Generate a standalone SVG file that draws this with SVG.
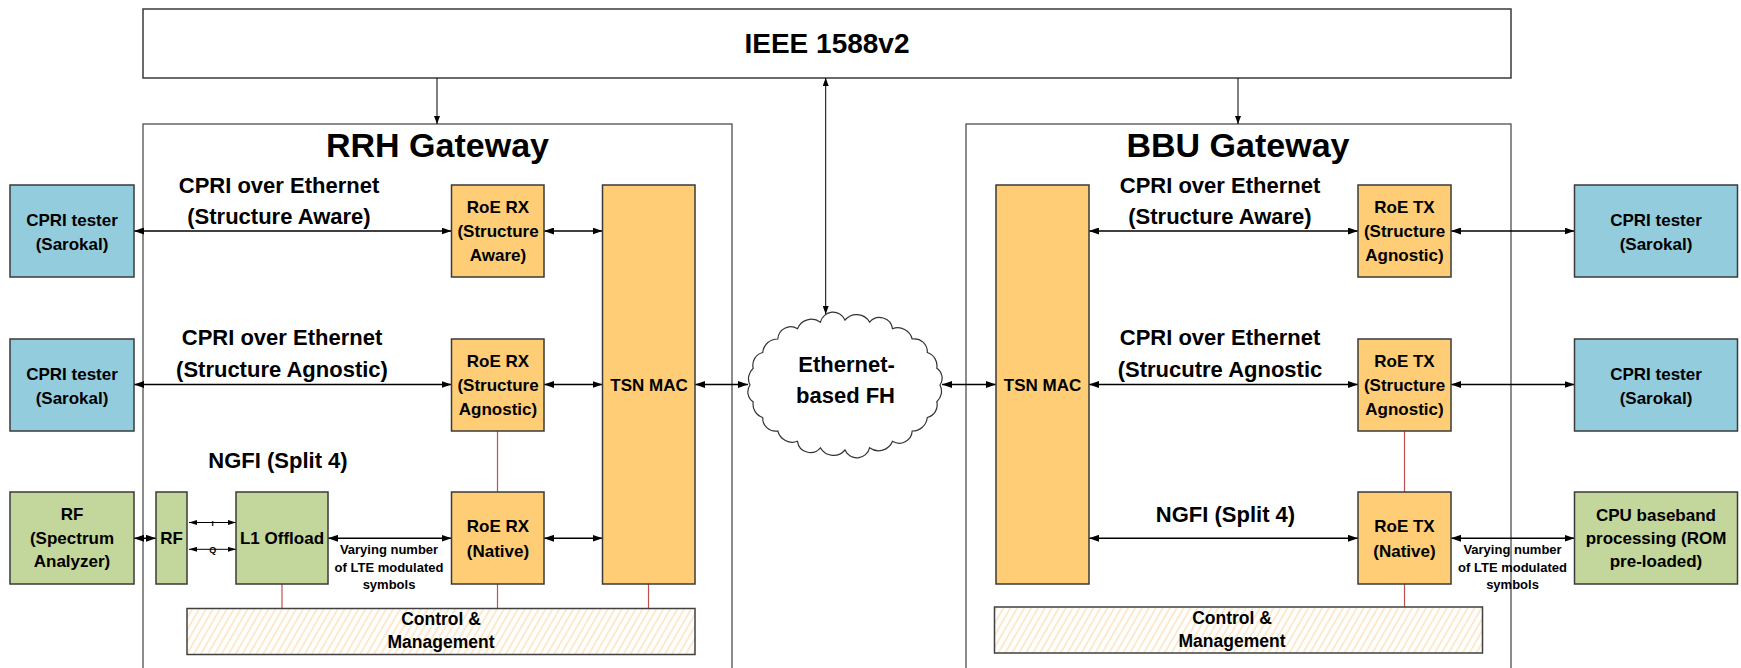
<svg xmlns="http://www.w3.org/2000/svg" width="1741" height="668" viewBox="0 0 1741 668">
<style>
.t{font-family:"Liberation Sans",Arial,sans-serif;font-weight:bold;fill:#000;text-anchor:middle}
.n{stroke:#3a3a3a;stroke-width:1.5}
.blue{fill:#93CDDD}
.orange{fill:#FECD76}
.green{fill:#C3D69B}
.gw{fill:none;stroke:#404040;stroke-width:1.2}
.c{stroke:#000;stroke-width:1.5;fill:none;marker-start:url(#ah);marker-end:url(#ah)}
.cs{stroke:#000;stroke-width:1;fill:none;marker-start:url(#as);marker-end:url(#as)}
.cv{stroke:#000;stroke-width:1;fill:none;marker-end:url(#av)}
.red{stroke:#C0504D;stroke-width:1.2;fill:none}
.bx{font-size:17px}
.lb{font-size:22px}
.sm{font-size:13px}
</style>
<defs>
<marker id="ah" viewBox="0 0 10 7" refX="10" refY="3.5" markerWidth="10" markerHeight="7" markerUnits="userSpaceOnUse" orient="auto-start-reverse"><path d="M0,0 L10,3.5 L0,7 z" fill="#000"/></marker>
<marker id="as" viewBox="0 0 8 5" refX="8" refY="2.5" markerWidth="8" markerHeight="5" markerUnits="userSpaceOnUse" orient="auto-start-reverse"><path d="M0,0 L8,2.5 L0,5 z" fill="#000"/></marker>
<marker id="av" viewBox="0 0 8 6" refX="8" refY="3" markerWidth="8" markerHeight="6" markerUnits="userSpaceOnUse" orient="auto-start-reverse"><path d="M0,0 L8,3 L0,6 z" fill="#000"/></marker>
<pattern id="hatch" patternUnits="userSpaceOnUse" width="6" height="6" patternTransform="rotate(30)"><rect width="6" height="6" fill="#fff"/><line x1="3" y1="0" x2="3" y2="6" stroke="#F8CF92" stroke-width="0.9"/></pattern>
</defs>

<g id="rrh-gateway"><rect class="gw" x="143" y="124" width="589" height="570"/><text class="t" x="437.5" y="157" font-size="34">RRH Gateway</text></g>
<g id="bbu-gateway"><rect class="gw" x="966" y="124" width="545" height="570"/><text class="t" x="1238" y="157" font-size="34">BBU Gateway</text></g>

<g id="ieee"><rect x="143" y="9" width="1368" height="69" fill="#fff" stroke="#3a3a3a" stroke-width="1.5"/><text class="t" x="827" y="53" font-size="28">IEEE 1588v2</text></g>

<g id="connectors">
<line class="cv" x1="437" y1="78" x2="437" y2="124"/>
<line class="cv" x1="1238" y1="78" x2="1238" y2="124"/>
<line class="cv" x1="825.7" y1="78" x2="825.7" y2="314" style="marker-start:url(#av)"/>
<line class="c" x1="134" y1="231" x2="451.5" y2="231"/>
<line class="c" x1="544" y1="231" x2="602.5" y2="231"/>
<line class="c" x1="134" y1="384.5" x2="451.5" y2="384.5"/>
<line class="c" x1="544" y1="384.5" x2="602.5" y2="384.5"/>
<line class="c" x1="695" y1="384.5" x2="748" y2="384.5"/>
<line class="c" x1="942" y1="384.5" x2="996" y2="384.5"/>
<line class="c" x1="1089" y1="231" x2="1358" y2="231"/>
<line class="c" x1="1451" y1="231" x2="1574.5" y2="231"/>
<line class="c" x1="1089" y1="384.5" x2="1358" y2="384.5"/>
<line class="c" x1="1451" y1="384.5" x2="1574.5" y2="384.5"/>
<line class="c" x1="1089" y1="538.3" x2="1358" y2="538.3"/>
<line class="c" x1="1451" y1="538.3" x2="1574.5" y2="538.3"/>
<line class="c" x1="134" y1="538.3" x2="156" y2="538.3"/>
<line class="c" x1="328" y1="538.3" x2="451.5" y2="538.3"/>
<line class="c" x1="544" y1="538.3" x2="602.5" y2="538.3"/>
<line class="cs" x1="189" y1="522.5" x2="236" y2="522.5"/>
<line class="cs" x1="189" y1="549.3" x2="236" y2="549.3"/>
<text class="t" x="212.7" y="526" font-size="8" font-weight="normal">I</text>
<text class="t" x="212.7" y="552.5" font-size="9" font-weight="normal">Q</text>
<line class="red" x1="497.5" y1="431" x2="497.5" y2="492"/>
<line class="red" x1="282" y1="584" x2="282" y2="608.5"/>
<line class="red" x1="497.5" y1="584" x2="497.5" y2="608.5"/>
<line class="red" x1="648.5" y1="584" x2="648.5" y2="608.5"/>
<line class="red" x1="1404.5" y1="431" x2="1404.5" y2="492"/>
<line class="red" x1="1404.5" y1="584" x2="1404.5" y2="607"/>
<text class="t lb" x="279" y="193">CPRI over Ethernet</text>
<text class="t lb" x="279" y="224">(Structure Aware)</text>
<text class="t lb" x="282" y="345">CPRI over Ethernet</text>
<text class="t lb" x="282" y="377">(Structure Agnostic)</text>
<text class="t lb" x="278" y="468">NGFI (Split 4)</text>
<text class="t lb" x="1220" y="193">CPRI over Ethernet</text>
<text class="t lb" x="1220" y="224">(Structure Aware)</text>
<text class="t lb" x="1220" y="345">CPRI over Ethernet</text>
<text class="t lb" x="1220" y="377">(Strucutre Agnostic</text>
<text class="t lb" x="1225.5" y="522">NGFI (Split 4)</text>
<text class="t sm" x="389" y="554">Varying number</text>
<text class="t sm" x="389" y="571.7">of LTE modulated</text>
<text class="t sm" x="389" y="589.3">symbols</text>
<text class="t sm" x="1512.5" y="554">Varying number</text>
<text class="t sm" x="1512.5" y="571.7">of LTE modulated</text>
<text class="t sm" x="1512.5" y="589.3">symbols</text>
</g>

<g id="cloud"><path d="M940,385 A14,14 0 0 1 936.8,401.8 A13,13 0 0 1 927.3,417.5 A15,15 0 0 1 912.2,431 A13,13 0 0 1 892.5,441.3 A15,15 0 0 1 869.6,447.8 A13,13 0 0 1 845,450 A15,15 0 0 1 820.4,447.8 A13,13 0 0 1 797.5,441.3 A15,15 0 0 1 777.8,431 A13,13 0 0 1 762.7,417.5 A14,14 0 0 1 753.2,401.8 A12,12 0 0 1 750,385 A14,14 0 0 1 753.2,368.2 A13,13 0 0 1 762.7,352.5 A15,15 0 0 1 777.8,339 A13,13 0 0 1 797.5,328.7 A15,15 0 0 1 820.4,322.2 A13,13 0 0 1 845,320 A15,15 0 0 1 869.6,322.2 A13,13 0 0 1 892.5,328.7 A15,15 0 0 1 912.2,339 A13,13 0 0 1 927.3,352.5 A14,14 0 0 1 936.8,368.2 A12,12 0 0 1 940,385 Z" fill="#fff" stroke="#333" stroke-width="1.2"/><text class="t" x="846.5" y="372" font-size="22">Ethernet-</text><text class="t" x="845.5" y="403" font-size="22">based FH</text></g>

<g id="cpri-tester-l1"><rect class="n blue" x="10" y="185" width="124" height="92"/><text class="t bx" x="72" y="226">CPRI tester</text><text class="t bx" x="72" y="250">(Sarokal)</text></g>
<g id="cpri-tester-l2"><rect class="n blue" x="10" y="339" width="124" height="92"/><text class="t bx" x="72" y="380">CPRI tester</text><text class="t bx" x="72" y="404">(Sarokal)</text></g>
<g id="rf-analyzer"><rect class="n green" x="10" y="492" width="124" height="92"/><text class="t bx" x="72" y="520">RF</text><text class="t bx" x="72" y="543.5">(Spectrum</text><text class="t bx" x="72" y="567">Analyzer)</text></g>
<g id="rf"><rect class="n green" x="156" y="492" width="31" height="92"/><text class="t bx" x="171.5" y="544">RF</text></g>
<g id="l1-offload"><rect class="n green" x="236" y="492" width="92" height="92"/><text class="t bx" x="282" y="544">L1 Offload</text></g>
<g id="roe-rx-aware"><rect class="n orange" x="451.5" y="185" width="92.5" height="92"/><text class="t bx" x="498" y="213">RoE RX</text><text class="t bx" x="498" y="237">(Structure</text><text class="t bx" x="498" y="261">Aware)</text></g>
<g id="roe-rx-agnostic"><rect class="n orange" x="451.5" y="339" width="92.5" height="92"/><text class="t bx" x="498" y="367">RoE RX</text><text class="t bx" x="498" y="391">(Structure</text><text class="t bx" x="498" y="415">Agnostic)</text></g>
<g id="roe-rx-native"><rect class="n orange" x="451.5" y="492" width="92.5" height="92"/><text class="t bx" x="498" y="532">RoE RX</text><text class="t bx" x="498" y="557">(Native)</text></g>
<g id="tsn-mac-rrh"><rect class="n orange" x="602.5" y="185" width="92.5" height="399"/><text class="t bx" x="649" y="391">TSN MAC</text></g>
<g id="cm-rrh"><rect x="187" y="608.5" width="508" height="46" fill="url(#hatch)" stroke="#404040" stroke-width="1.5"/><text class="t" x="441" y="625" font-size="17.5">Control &amp;</text><text class="t" x="441" y="648" font-size="17.5">Management</text></g>

<g id="tsn-mac-bbu"><rect class="n orange" x="996" y="185" width="93" height="399"/><text class="t bx" x="1042.5" y="391">TSN MAC</text></g>
<g id="roe-tx-aware"><rect class="n orange" x="1358" y="185" width="93" height="92"/><text class="t bx" x="1404.5" y="213">RoE TX</text><text class="t bx" x="1404.5" y="237">(Structure</text><text class="t bx" x="1404.5" y="261">Agnostic)</text></g>
<g id="roe-tx-agnostic"><rect class="n orange" x="1358" y="339" width="93" height="92"/><text class="t bx" x="1404.5" y="367">RoE TX</text><text class="t bx" x="1404.5" y="391">(Structure</text><text class="t bx" x="1404.5" y="415">Agnostic)</text></g>
<g id="roe-tx-native"><rect class="n orange" x="1358" y="492" width="93" height="92"/><text class="t bx" x="1404.5" y="532">RoE TX</text><text class="t bx" x="1404.5" y="557">(Native)</text></g>
<g id="cpri-tester-r1"><rect class="n blue" x="1574.5" y="185" width="163" height="92"/><text class="t bx" x="1656" y="226">CPRI tester</text><text class="t bx" x="1656" y="250">(Sarokal)</text></g>
<g id="cpri-tester-r2"><rect class="n blue" x="1574.5" y="339" width="163" height="92"/><text class="t bx" x="1656" y="380">CPRI tester</text><text class="t bx" x="1656" y="404">(Sarokal)</text></g>
<g id="cpu-baseband"><rect class="n green" x="1574.5" y="492" width="163" height="92"/><text class="t bx" x="1656" y="520.5">CPU baseband</text><text class="t bx" x="1656" y="544">processing (ROM</text><text class="t bx" x="1656" y="567">pre-loaded)</text></g>
<g id="cm-bbu"><rect x="994.5" y="607" width="488" height="46" fill="url(#hatch)" stroke="#404040" stroke-width="1.5"/><text class="t" x="1232" y="624" font-size="17.5">Control &amp;</text><text class="t" x="1232" y="647" font-size="17.5">Management</text></g>
</svg>
